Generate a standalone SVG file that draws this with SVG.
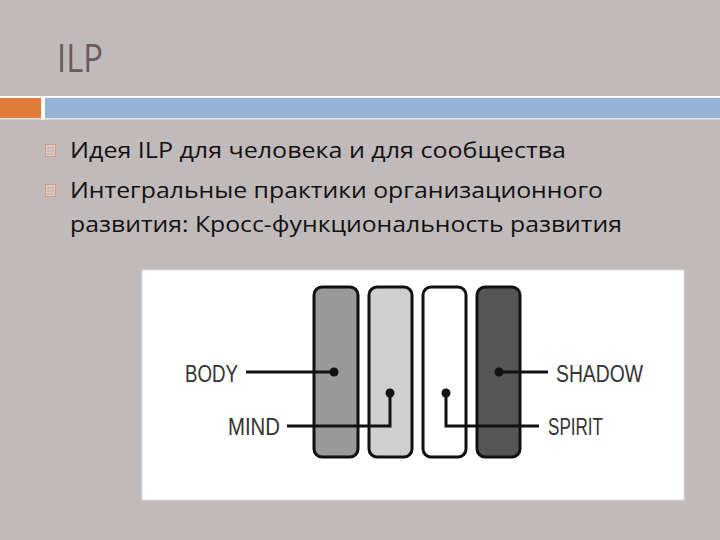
<svg xmlns="http://www.w3.org/2000/svg" width="720" height="540" viewBox="0 0 720 540">
<style>
.body{font-family:"Open Sans","Noto Sans",sans-serif;font-size:22px;fill:#111}
.lbl{font-family:"Liberation Sans",Arial,sans-serif;font-size:23.5px;fill:#333}
.bar{stroke:#111;stroke-width:3}
.conn{fill:none;stroke:#111;stroke-width:3}
.dot{fill:#111}
.bul{fill:#d9c9c4;stroke:#d99a7f;stroke-width:1}
</style>
<rect width="720" height="540" fill="#c1babb"/>
<g id="title">
<text x="57" y="72" font-family="'Open Sans','Noto Sans',sans-serif" font-size="38" fill="#6a5b5b" textLength="46" lengthAdjust="spacingAndGlyphs">ILP</text>
</g>
<g id="band">
<rect x="0" y="96" width="720" height="2" fill="#ffffff"/>
<rect x="0" y="98" width="41" height="20" fill="#e07b39"/>
<rect x="41" y="98" width="4" height="22" fill="#ffffff"/>
<rect x="45" y="98" width="675" height="20" fill="#95b3d7"/>
<rect x="0" y="118" width="720" height="1.5" fill="#e6e2e2"/>
</g>
<g id="bullets">
<rect class="bul" x="45.5" y="144.5" width="10" height="12"/>
<line x1="47" y1="148" x2="54" y2="148" stroke="#c9a79a" stroke-width="1"/>
<line x1="47" y1="151" x2="54" y2="151" stroke="#c9a79a" stroke-width="1"/>
<line x1="47" y1="154" x2="54" y2="154" stroke="#c9a79a" stroke-width="1"/>
<rect class="bul" x="45.5" y="184.5" width="10" height="12"/>
<line x1="47" y1="188" x2="54" y2="188" stroke="#c9a79a" stroke-width="1"/>
<line x1="47" y1="191" x2="54" y2="191" stroke="#c9a79a" stroke-width="1"/>
<line x1="47" y1="194" x2="54" y2="194" stroke="#c9a79a" stroke-width="1"/>
</g>
<g id="text">
<text class="body" x="70" y="158" textLength="496" lengthAdjust="spacingAndGlyphs">Идея ILP для человека и для сообщества</text>
<text class="body" x="70" y="198" textLength="533" lengthAdjust="spacingAndGlyphs">Интегральные практики организационного</text>
<text class="body" x="70" y="232" textLength="552" lengthAdjust="spacingAndGlyphs">развития: Кросс-функциональность развития</text>
</g>
<g id="picture">
<rect x="142" y="270" width="542" height="230" fill="#ffffff" stroke="#e4e0e0" stroke-width="1"/>
</g>
<g id="bar-body"><rect class="bar" x="314" y="287" width="44" height="170" rx="8" fill="#999999"/></g>
<g id="bar-mind"><rect class="bar" x="369" y="287" width="43" height="170" rx="8" fill="#cfcfcf"/></g>
<g id="bar-spirit"><rect class="bar" x="423" y="287" width="43" height="170" rx="8" fill="#ffffff"/></g>
<g id="bar-shadow"><rect class="bar" x="477" y="287" width="43" height="170" rx="8" fill="#555555"/></g>
<g id="connectors">
<path class="conn" d="M246,372 H334"/>
<path class="conn" d="M287,426 H390 V393"/>
<path class="conn" d="M499,372 H548"/>
<path class="conn" d="M539,426 H446 V393"/>
<circle class="dot" cx="334" cy="372" r="4.5"/>
<circle class="dot" cx="390" cy="393" r="4.5"/>
<circle class="dot" cx="499" cy="372" r="4.5"/>
<circle class="dot" cx="446" cy="393" r="4.5"/>
</g>
<g id="label-body"><text class="lbl" x="185" y="382" textLength="53" lengthAdjust="spacingAndGlyphs">BODY</text></g>
<g id="label-mind"><text class="lbl" x="228" y="435" textLength="52" lengthAdjust="spacingAndGlyphs">MIND</text></g>
<g id="label-shadow"><text class="lbl" x="556" y="382" textLength="87" lengthAdjust="spacingAndGlyphs">SHADOW</text></g>
<g id="label-spirit"><text class="lbl" x="548" y="435" textLength="55" lengthAdjust="spacingAndGlyphs">SPIRIT</text></g>
</svg>
